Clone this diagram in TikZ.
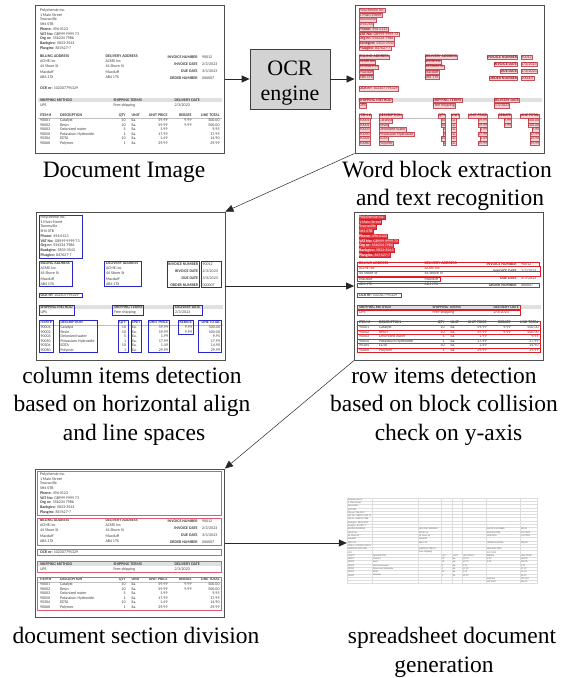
\documentclass[tikz,border=0pt]{standalone}
\usepackage{fontspec}
\setmainfont{Liberation Serif}
\newfontfamily\invf{Carlito}
\usetikzlibrary{arrows.meta}
\definecolor{frame}{HTML}{505050}
\definecolor{ocrfill}{HTML}{D3D3D3}
\definecolor{wfill}{HTML}{F6D2D5}
\definecolor{wdraw}{HTML}{C8505A}
\definecolor{wtext}{HTML}{8A1C26}
\definecolor{colblue}{HTML}{2828C8}
\definecolor{rowred}{HTML}{DC1E28}
\definecolor{secred}{HTML}{E05A6E}
\definecolor{invtext}{HTML}{3E3E3E}
\definecolor{gridc}{HTML}{DDDDDD}

\newcommand\invrow[8]{%
  \node[inv,w] (#1a) at (4.5,#2) {#3};
  \node[inv,w] (#1b) at (24.5,#2) {#4};
  \node[inv,w,anchor=east] (#1c) at (91,#2) {#5};
  \node[inv,w] (#1d) at (96,#2) {Ea.};
  \node[inv,w,anchor=east] (#1e) at (133,#2) {#6};
  \ifx\relax#7\relax\else\node[inv,w,anchor=east] (#1f) at (157,#2) {#7};\fi
  \node[inv,w,anchor=east] (#1g) at (185,#2) {#8};
}
\newcommand\invbody{%
  \fill[black!12] (3,93.3) rectangle (187,97.7);
  \draw[black!25,line width=0.3pt] (3,113.6) -- (187,113.6);
  \node[inv,hd] (h1) at (4.5,5.7) {Polychemie Inc.};
  \node[inv,hd] (h2) at (4.5,10.45) {1 Main Street};
  \node[inv,hd] (h3) at (4.5,15.2) {Townsville};
  \node[inv,hd] (h4) at (4.5,19.95) {SH4 0TB};
  \node[inv,hd] (h5) at (4.5,24.7) {\textbf{Phone:} 496 0123};
  \node[inv,hd] (h6) at (4.5,29.45) {\textbf{VAT No:} GB999 9999 73};
  \node[inv,hd] (h7) at (4.5,34.2) {\textbf{Org nr:} 556234 7986};
  \node[inv,hd] (h8) at (4.5,38.95) {\textbf{Bankgiro:} 5833-3543};
  \node[inv,hd] (h9) at (4.5,43.7) {\textbf{Plusgiro:} 847627-7};
  \node[inv,w] (ba) at (4.5,52.3) {\textbf{BILLING ADDRESS}};
  \node[inv,w] (bb) at (4.5,57.3) {ACME Inc};
  \node[inv,w] (bc) at (4.5,62.3) {44 Shore St};
  \node[inv,w] (bd) at (4.5,67.5) {Macduff};
  \node[inv,w] (be) at (4.5,72.7) {AB4 1TX};
  \node[inv,w] (da) at (70,52.3) {\textbf{DELIVERY ADDRESS}};
  \node[inv,w] (db) at (70,57.3) {ACME Inc};
  \node[inv,w] (dc) at (70,62.3) {44 Shore St};
  \node[inv,w] (dd) at (70,67.5) {Macduff};
  \node[inv,w] (de) at (70,72.7) {AB4 1TX};
  \node[inv,w,anchor=east] (ia) at (163,52.5) {\textbf{INVOICE NUMBER}};
  \node[inv,w] (iav) at (166.5,52.5) {90012};
  \node[inv,w,anchor=east] (ib) at (163,59.5) {\textbf{INVOICE DATE}};
  \node[inv,w] (ibv) at (166.5,59.5) {2/3/2023};
  \node[inv,w,anchor=east] (ic) at (163,66.5) {\textbf{DUE DATE}};
  \node[inv,w] (icv) at (166.5,66.5) {3/3/2023};
  \node[inv,w,anchor=east] (id) at (163,73.5) {\textbf{ORDER NUMBER}};
  \node[inv,w] (idv) at (166.5,73.5) {000007};
  \node[inv,w] (ocr) at (4.5,84) {\textbf{OCR nr:} 102307795329};
  \node[inv,w] (sa) at (4.5,95.5) {\textbf{SHIPPING METHOD}};
  \node[inv,w] (sb) at (78,95.5) {\textbf{SHIPPING TERMS}};
  \node[inv,w] (sc) at (139,95.5) {\textbf{DELIVERY DATE}};
  \node[inv,w] (sd) at (4.5,101) {UPS};
  \node[inv,w] (se) at (78,101) {Free shipping};
  \node[inv,w] (sf) at (139,101) {2/3/2023};
  \node[inv,w] (ta) at (4.5,111.3) {\textbf{ITEM \#}};
  \node[inv,w] (tb) at (24.5,111.3) {\textbf{DESCRIPTION}};
  \node[inv,w,anchor=east] (tc) at (91,111.3) {\textbf{QTY}};
  \node[inv,w] (td) at (96,111.3) {\textbf{UNIT}};
  \node[inv,w,anchor=east] (te) at (133,111.3) {\textbf{UNIT PRICE}};
  \node[inv,w,anchor=east] (tf) at (157,111.3) {\textbf{REBATE}};
  \node[inv,w,anchor=east] (tg) at (185,111.3) {\textbf{LINE TOTAL}};
  \invrow{ra}{116}{90001}{Catalyst}{10}{59.99}{9.99}{500.00}
  \invrow{rb}{120.5}{90002}{Resin}{10}{59.99}{9.99}{500.00}
  \invrow{rc}{125}{90003}{Deionized water}{5}{1.99}{}{9.95}
  \invrow{rd}{129.5}{90050}{Potassium Hydroxide}{1}{17.99}{}{17.99}
  \invrow{re}{134}{90304}{EDTA}{10}{1.49}{}{14.90}
  \invrow{rf}{138.5}{90060}{Polymer}{1}{29.99}{}{29.99}
}
\newcommand\sscell[4]{\node[ss] (#1) at ({#2+0.8},{(#3+0.5)*3.3}) {#4};}
\newcommand\ssrow[9]{%
  \sscell{#1a}{0}{#2}{#3}\sscell{#1b}{25}{#2}{#4}\sscell{#1c}{94}{#2}{#5}%
  \sscell{#1d}{105}{#2}{#6}\sscell{#1e}{115}{#2}{#7}%
  \ifx\relax#8\relax\else\sscell{#1f}{139}{#2}{#8}\fi
  \sscell{#1g}{173}{#2}{#9}}

\tikzset{
  inv/.style={font=\invf\fontsize{4}{4.6}\selectfont, text=invtext, inner sep=0.3pt,
    text height=2.9pt, text depth=0.9pt, anchor=west},
  w/.style={}, hd/.style={},
  wbox/.style={fill=wfill, draw=wdraw, line width=0.25pt},
  ss/.style={font=\invf\fontsize{2.4}{2.8}\selectfont, text=black!60, inner sep=0.2pt, anchor=west},
  thumb/.style={draw=frame, line width=0.9pt, fill=white, minimum width=189pt, minimum height=148pt, inner sep=0pt},
  captxt/.style={font=\fontsize{23.5}{28}\selectfont, anchor=base, inner sep=0pt},
  arr/.style={-{Triangle[length=8pt,width=7pt]}, line width=0.8pt, draw=black!85},
  darr/.style={arr, line width=0.5pt},
  colbox/.style={draw=colblue, line width=0.6pt},
  rowbox/.style={draw=rowred, line width=0.5pt},
  rowfill/.style={draw=rowred, fill=rowred!85, text=white!85!pink, line width=0.5pt},
  secbox/.style={draw=secred, line width=0.7pt},
}

\begin{document}
\begin{tikzpicture}[x=1pt,y=-1pt]
\fill[white] (0,0) rectangle (566,678);
\useasboundingbox (0,0) rectangle (566,678);

% thumbnails
\node[thumb] (d1) at (130,79) {};
\node[thumb] (d2) at (449.5,79) {};
\node[thumb] (d3) at (130.5,286) {};
\node[thumb] (d4) at (449,286) {};
\node[thumb] (d5) at (130,543) {};
\node[minimum width=190pt, minimum height=86pt, inner sep=0pt] (d6) at (442,541) {};

% OCR engine
\node[draw=black!75, fill=ocrfill, line width=0.8pt, minimum width=80pt, minimum height=60pt, inner sep=0pt] (engine) at (290,79) {};
\node[font=\fontsize{22}{25}\selectfont, anchor=base, inner sep=0pt] (engt) at (290,75) {OCR};
\node[font=\fontsize{22}{25}\selectfont, anchor=base, inner sep=0pt] (engb) at (290,100) {engine};

% thumb 1: document image
\begin{scope}[shift={(d1.north west)}, name prefix=t1-]
  \invbody
\end{scope}

% thumb 2: word blocks
\begin{scope}[shift={(d2.north west)}, name prefix=t2-, inv/.append style={text=wtext}, w/.style={wbox}, hd/.style={wbox}]
  \invbody
\end{scope}

% thumb 3: column items
\begin{scope}[shift={(d3.north west)}, name prefix=t3-]
  \invbody
  \draw[colbox] (3.5,3.3) rectangle (47,46.3);
  \draw[colbox] (3.5,50.2) rectangle (37,75);
  \draw[colbox] (69,50.2) rectangle (106,75.2);
  \draw[colbox] (132,50.2) rectangle (164,75.8);
  \draw[colbox] (165.5,50.2) rectangle (185.5,75.8);
  \draw[colbox] (3.5,82) rectangle (47,86.2);
  \draw[colbox] (3.5,93.3) rectangle (39,103.3);
  \draw[colbox] (77,93.3) rectangle (108,103.3);
  \draw[colbox] (138,93.3) rectangle (167,103.3);
  \draw[colbox] (3.5,109.2) rectangle (17.5,141);
  \draw[colbox] (23.5,109.2) rectangle (62,141);
  \draw[colbox] (83,109.2) rectangle (92.3,141);
  \draw[colbox] (95.3,109.2) rectangle (106,141);
  \draw[colbox] (112.5,109.2) rectangle (134,141);
  \draw[colbox] (142.5,109.2) rectangle (158,122.8);
  \draw[colbox] (162.5,109.2) rectangle (185.8,141);
\end{scope}

% thumb 4: row items
\begin{scope}[shift={(d4.north west)}, name prefix=t4-, hd/.style={rowfill}]
  \invbody
  \draw[rowbox] (3.5,50.3) rectangle (185,54.6);
  \draw[rowbox] (3.5,55.1) rectangle (186,59.6);
  \draw[rowbox] (3.5,60.1) rectangle (186,64.6);
  \draw[rowbox] (3.5,65.2) rectangle (86,69.8);
  \draw[rowbox] (3.5,71.2) rectangle (185,75.6);
  \draw[rowbox] (3.5,82) rectangle (47,86);
  \draw[rowbox] (3.5,93.4) rectangle (166,97.8);
  \draw[rowbox] (3.5,98.6) rectangle (166,103.4);
  \draw[rowbox] (3.5,109.2) rectangle (186,113.5);
  \foreach \yy in {116,120.5,125,129.5,134,138.5}
    \draw[rowbox] (3.5,\yy-2.2) rectangle (186,\yy+2.2);
\end{scope}

% thumb 5: sections
\begin{scope}[shift={(d5.north west)}, name prefix=t5-]
  \invbody
  \draw[secbox] (1.8,2.5) rectangle (186.5,46.5);
  \draw[secbox] (1.8,49.3) rectangle (186.5,77);
  \draw[secbox] (1.8,81.2) rectangle (186.5,86.3);
  \draw[secbox] (1.8,92.5) rectangle (186.5,104);
  \draw[secbox] (1.8,108.5) rectangle (186.5,141.5);
\end{scope}

% thumb 6: spreadsheet
\begin{scope}[shift={(d6.north west)}, name prefix=t6-]
  \foreach \r in {0,...,26}
    \draw[gridc, line width=0.25pt] (0,\r*3.3) -- (190,\r*3.3);
  \foreach \c in {0,25,71,94,105,115,139,173,190}
    \draw[gridc, line width=0.25pt] (\c,0) -- (\c,85.8);
  \sscell{s1}{0}{0}{Polychemie Inc.}
  \sscell{s2}{0}{1}{1 Main Street}
  \sscell{s3}{0}{2}{Townsville}
  \sscell{s4}{0}{3}{SH4 0TB}
  \sscell{s5}{0}{4}{Phone: 496 0123}
  \sscell{s6}{0}{5}{VAT No: GB999 9999 73}
  \sscell{s7}{0}{6}{Org nr: 556234 7986}
  \sscell{s8}{0}{7}{Bankgiro: 5833-3543}
  \sscell{s9}{0}{8}{Plusgiro: 847627-7}
  \sscell{s10}{0}{9}{BILLING ADDRESS}
  \sscell{s11}{71}{9}{DELIVERY ADDRESS}
  \sscell{s12}{139}{9}{INVOICE NUMBER}
  \sscell{s13}{173}{9}{90012}
  \sscell{s14}{0}{10}{ACME Inc}
  \sscell{s15}{71}{10}{ACME Inc}
  \sscell{s16}{139}{10}{INVOICE DATE}
  \sscell{s17}{173}{10}{2/3/2023}
  \sscell{s18}{0}{11}{44 Shore St}
  \sscell{s19}{71}{11}{44 Shore St}
  \sscell{s20}{139}{11}{DUE DATE}
  \sscell{s21}{173}{11}{3/3/2023}
  \sscell{s22}{0}{12}{Macduff}
  \sscell{s23}{71}{12}{Macduff}
  \sscell{s24}{0}{13}{AB4 1TX}
  \sscell{s25}{71}{13}{AB4 1TX}
  \sscell{s26}{139}{13}{ORDER NUMBER}
  \sscell{s27}{173}{13}{000007}
  \sscell{s28}{0}{14}{OCR nr: 102307795329}
  \sscell{s29}{0}{15}{SHIPPING METHOD}
  \sscell{s30}{71}{15}{SHIPPING TERMS}
  \sscell{s31}{139}{15}{DELIVERY DATE}
  \sscell{s32}{0}{16}{UPS}
  \sscell{s33}{71}{16}{Free shipping}
  \sscell{s34}{139}{16}{2/3/2023}
  \ssrow{sh}{17}{ITEM \#}{DESCRIPTION}{QTY}{UNIT}{UNIT PRICE}{REBATE}{LINE TOTAL}
  \ssrow{sa}{18}{90001}{Catalyst}{10}{Ea.}{59.99}{9.99}{500.00}
  \ssrow{sb}{19}{90002}{Resin}{10}{Ea.}{59.99}{9.99}{500.00}
  \ssrow{sc}{20}{90003}{Deionized water}{5}{Ea.}{1.99}{}{9.95}
  \ssrow{sd}{21}{90050}{Potassium Hydroxide}{1}{Ea.}{17.99}{}{17.99}
  \ssrow{se}{22}{90304}{EDTA}{10}{Ea.}{1.49}{}{14.90}
  \ssrow{sf}{23}{90060}{Polymer}{1}{Ea.}{29.99}{}{29.99}
  \sscell{s35}{139}{24}{Subtotal}
  \sscell{s36}{173}{24}{1072.83}
  \sscell{s37}{139}{25}{VAT total}
  \sscell{s38}{173}{25}{268.21}
\end{scope}

% captions
\node[captxt] (c1) at (124,177) {Document Image};
\node[captxt] (c2a) at (447,177) {Word block extraction};
\node[captxt] (c2b) at (450,205) {and text recognition};
\node[captxt] (c3a) at (132,383) {column items detection};
\node[captxt] (c3b) at (132,411.5) {based on horizontal align};
\node[captxt] (c3c) at (134,440) {and line spaces};
\node[captxt] (c4a) at (444,383) {row items detection};
\node[captxt] (c4b) at (444,411.5) {based on block collision};
\node[captxt] (c4c) at (448.5,440) {check on y-axis};
\node[captxt] (c5) at (136,643) {document section division};
\node[captxt] (c6a) at (452,643) {spreadsheet document};
\node[captxt] (c6b) at (444,672) {generation};

% connectors
\draw[arr] (d1.east) -- (engine.west);
\draw[arr] (engine.east) -- (d2.west);
\draw[darr] (d2.south west) -- (d3.north east);
\draw[arr] (d3.east) -- (d4.west);
\draw[darr] (d4.south west) -- (d5.north east);
\draw[arr] (d5.east) -- (d5.east -| d6.west);
\end{tikzpicture}
\end{document}
